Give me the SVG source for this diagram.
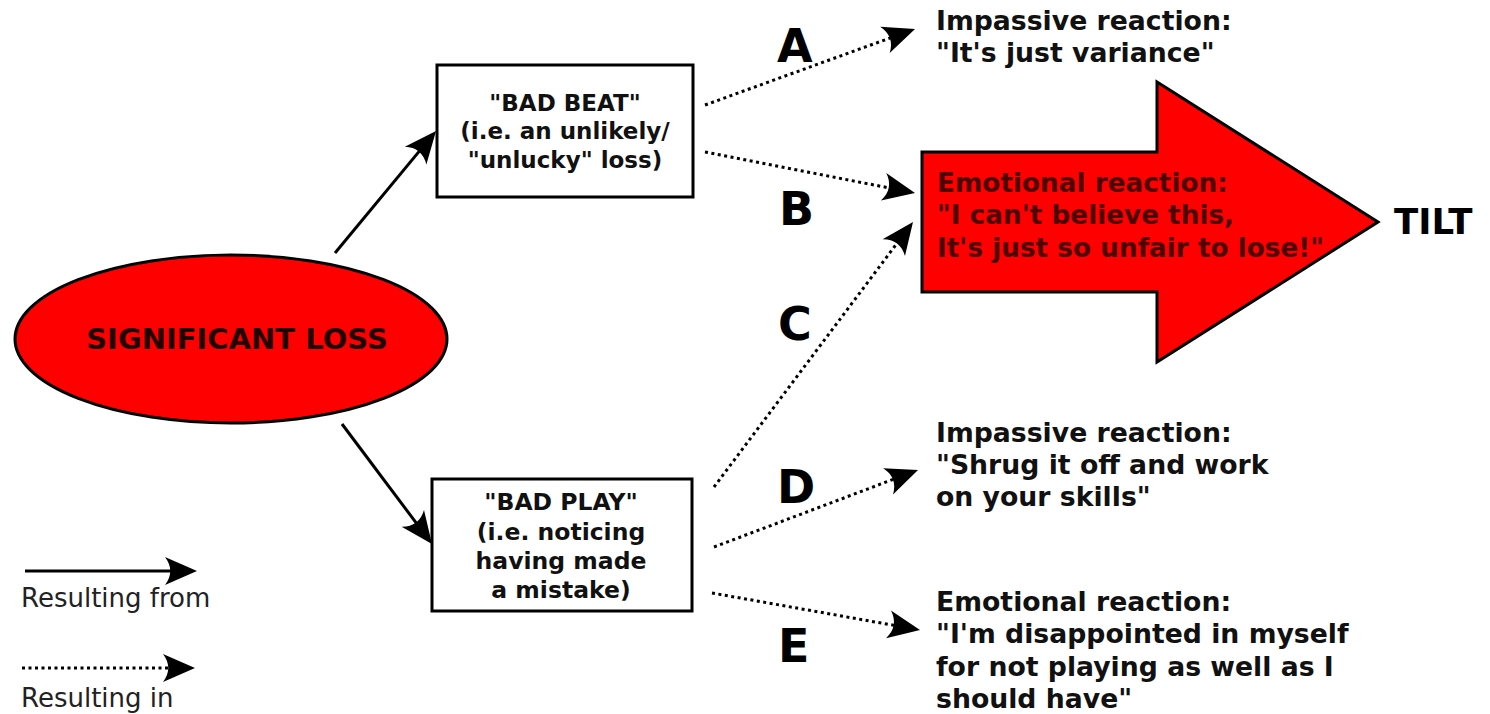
<svg xmlns="http://www.w3.org/2000/svg" width="1490" height="714" viewBox="0 0 1490 714">
<style>
.b{font-family:"DejaVu Sans",sans-serif;font-weight:bold;}
.n{font-family:"DejaVu Sans",sans-serif;}
.solid{fill:none;stroke:#000;stroke-width:3;}
.dot{fill:none;stroke:#000;stroke-width:3;stroke-dasharray:3,3.5;}
.box{fill:#fff;stroke:#000;stroke-width:3;}
.red{fill:#ff0000;stroke:#000;stroke-width:3;}
.lbl{font-size:46px;fill:#000;}
.rt{font-size:26.7px;fill:#111;}
</style>
<defs>
<marker id="ah" markerUnits="userSpaceOnUse" orient="auto" refX="0" refY="0" markerWidth="1" markerHeight="1" overflow="visible">
<path d="M6,0 L-26,-14 C-19,-5 -19,5 -26,14 Z" fill="#000"/>
</marker>
</defs>
<rect width="1490" height="714" fill="#fff"/>

<g id="connectors">
<line class="solid" x1="335" y1="253" x2="432.2" y2="135.6" marker-end="url(#ah)"/>
<line class="solid" x1="342" y1="424" x2="428.4" y2="539.2" marker-end="url(#ah)"/>
<line class="dot" x1="705" y1="105" x2="909.4" y2="31" marker-end="url(#ah)"/>
<line class="dot" x1="705" y1="152" x2="909.1" y2="191.8" marker-end="url(#ah)"/>
<line class="dot" x1="714" y1="487" x2="909.4" y2="226.8" marker-end="url(#ah)"/>
<line class="dot" x1="714" y1="547" x2="912.4" y2="472.1" marker-end="url(#ah)"/>
<line class="dot" x1="712" y1="593" x2="914.1" y2="628.9" marker-end="url(#ah)"/>
<text class="b lbl" x="777" y="62">A</text>
<text class="b lbl" x="779" y="225">B</text>
<text class="b lbl" x="778" y="340">C</text>
<text class="b lbl" x="777" y="503">D</text>
<text class="b lbl" x="778" y="662">E</text>
</g>

<g id="significant-loss">
<ellipse class="red" cx="231" cy="339" rx="216" ry="84"/>
<text class="b" x="237" y="349" font-size="29" text-anchor="middle" fill="#220000">SIGNIFICANT LOSS</text>
</g>

<g id="bad-beat">
<rect class="box" x="437" y="65" width="256" height="132"/>
<g class="b" font-size="23" text-anchor="middle" fill="#111">
<text x="565" y="111">"BAD BEAT"</text>
<text x="565" y="139">(i.e. an unlikely/</text>
<text x="565" y="168">"unlucky" loss)</text>
</g>
</g>

<g id="bad-play">
<rect class="box" x="432" y="479" width="260" height="132"/>
<g class="b" font-size="23.5" text-anchor="middle" fill="#111">
<text x="561" y="510">"BAD PLAY"</text>
<text x="561" y="540">(i.e. noticing</text>
<text x="561" y="569">having made</text>
<text x="561" y="598">a mistake)</text>
</g>
</g>

<g id="impassive-a">
<text class="b rt" x="936" y="30">Impassive reaction:</text>
<text class="b rt" x="936" y="62">"It's just variance"</text>
</g>

<g id="emotional-b">
<polygon class="red" points="922,152 1157,152 1157,82 1378,222 1157,362 1157,292 922,292"/>
<g class="b" font-size="26.3" fill="#4d0000">
<text x="937" y="192">Emotional reaction:</text>
<text x="937" y="224">"I can't believe this,</text>
<text x="937" y="257">It's just so unfair to lose!"</text>
</g>
</g>

<g id="tilt">
<text class="b" x="1394" y="234" font-size="35.5" fill="#000">TILT</text>
</g>

<g id="impassive-d">
<text class="b rt" x="936" y="442">Impassive reaction:</text>
<text class="b rt" x="936" y="474">"Shrug it off and work</text>
<text class="b rt" x="936" y="506">on your skills"</text>
</g>

<g id="emotional-e">
<text class="b rt" x="936" y="611">Emotional reaction:</text>
<text class="b rt" x="936" y="643">"I'm disappointed in myself</text>
<text class="b rt" x="936" y="676">for not playing as well as I</text>
<text class="b rt" x="936" y="708">should have"</text>
</g>

<g id="legend">
<line class="solid" x1="25" y1="571" x2="191" y2="571" marker-end="url(#ah)"/>
<text class="n" x="21" y="607" font-size="26" fill="#222">Resulting from</text>
<line class="dot" x1="22" y1="668" x2="189" y2="668" marker-end="url(#ah)"/>
<text class="n" x="21" y="707" font-size="26" fill="#222">Resulting in</text>
</g>
</svg>
